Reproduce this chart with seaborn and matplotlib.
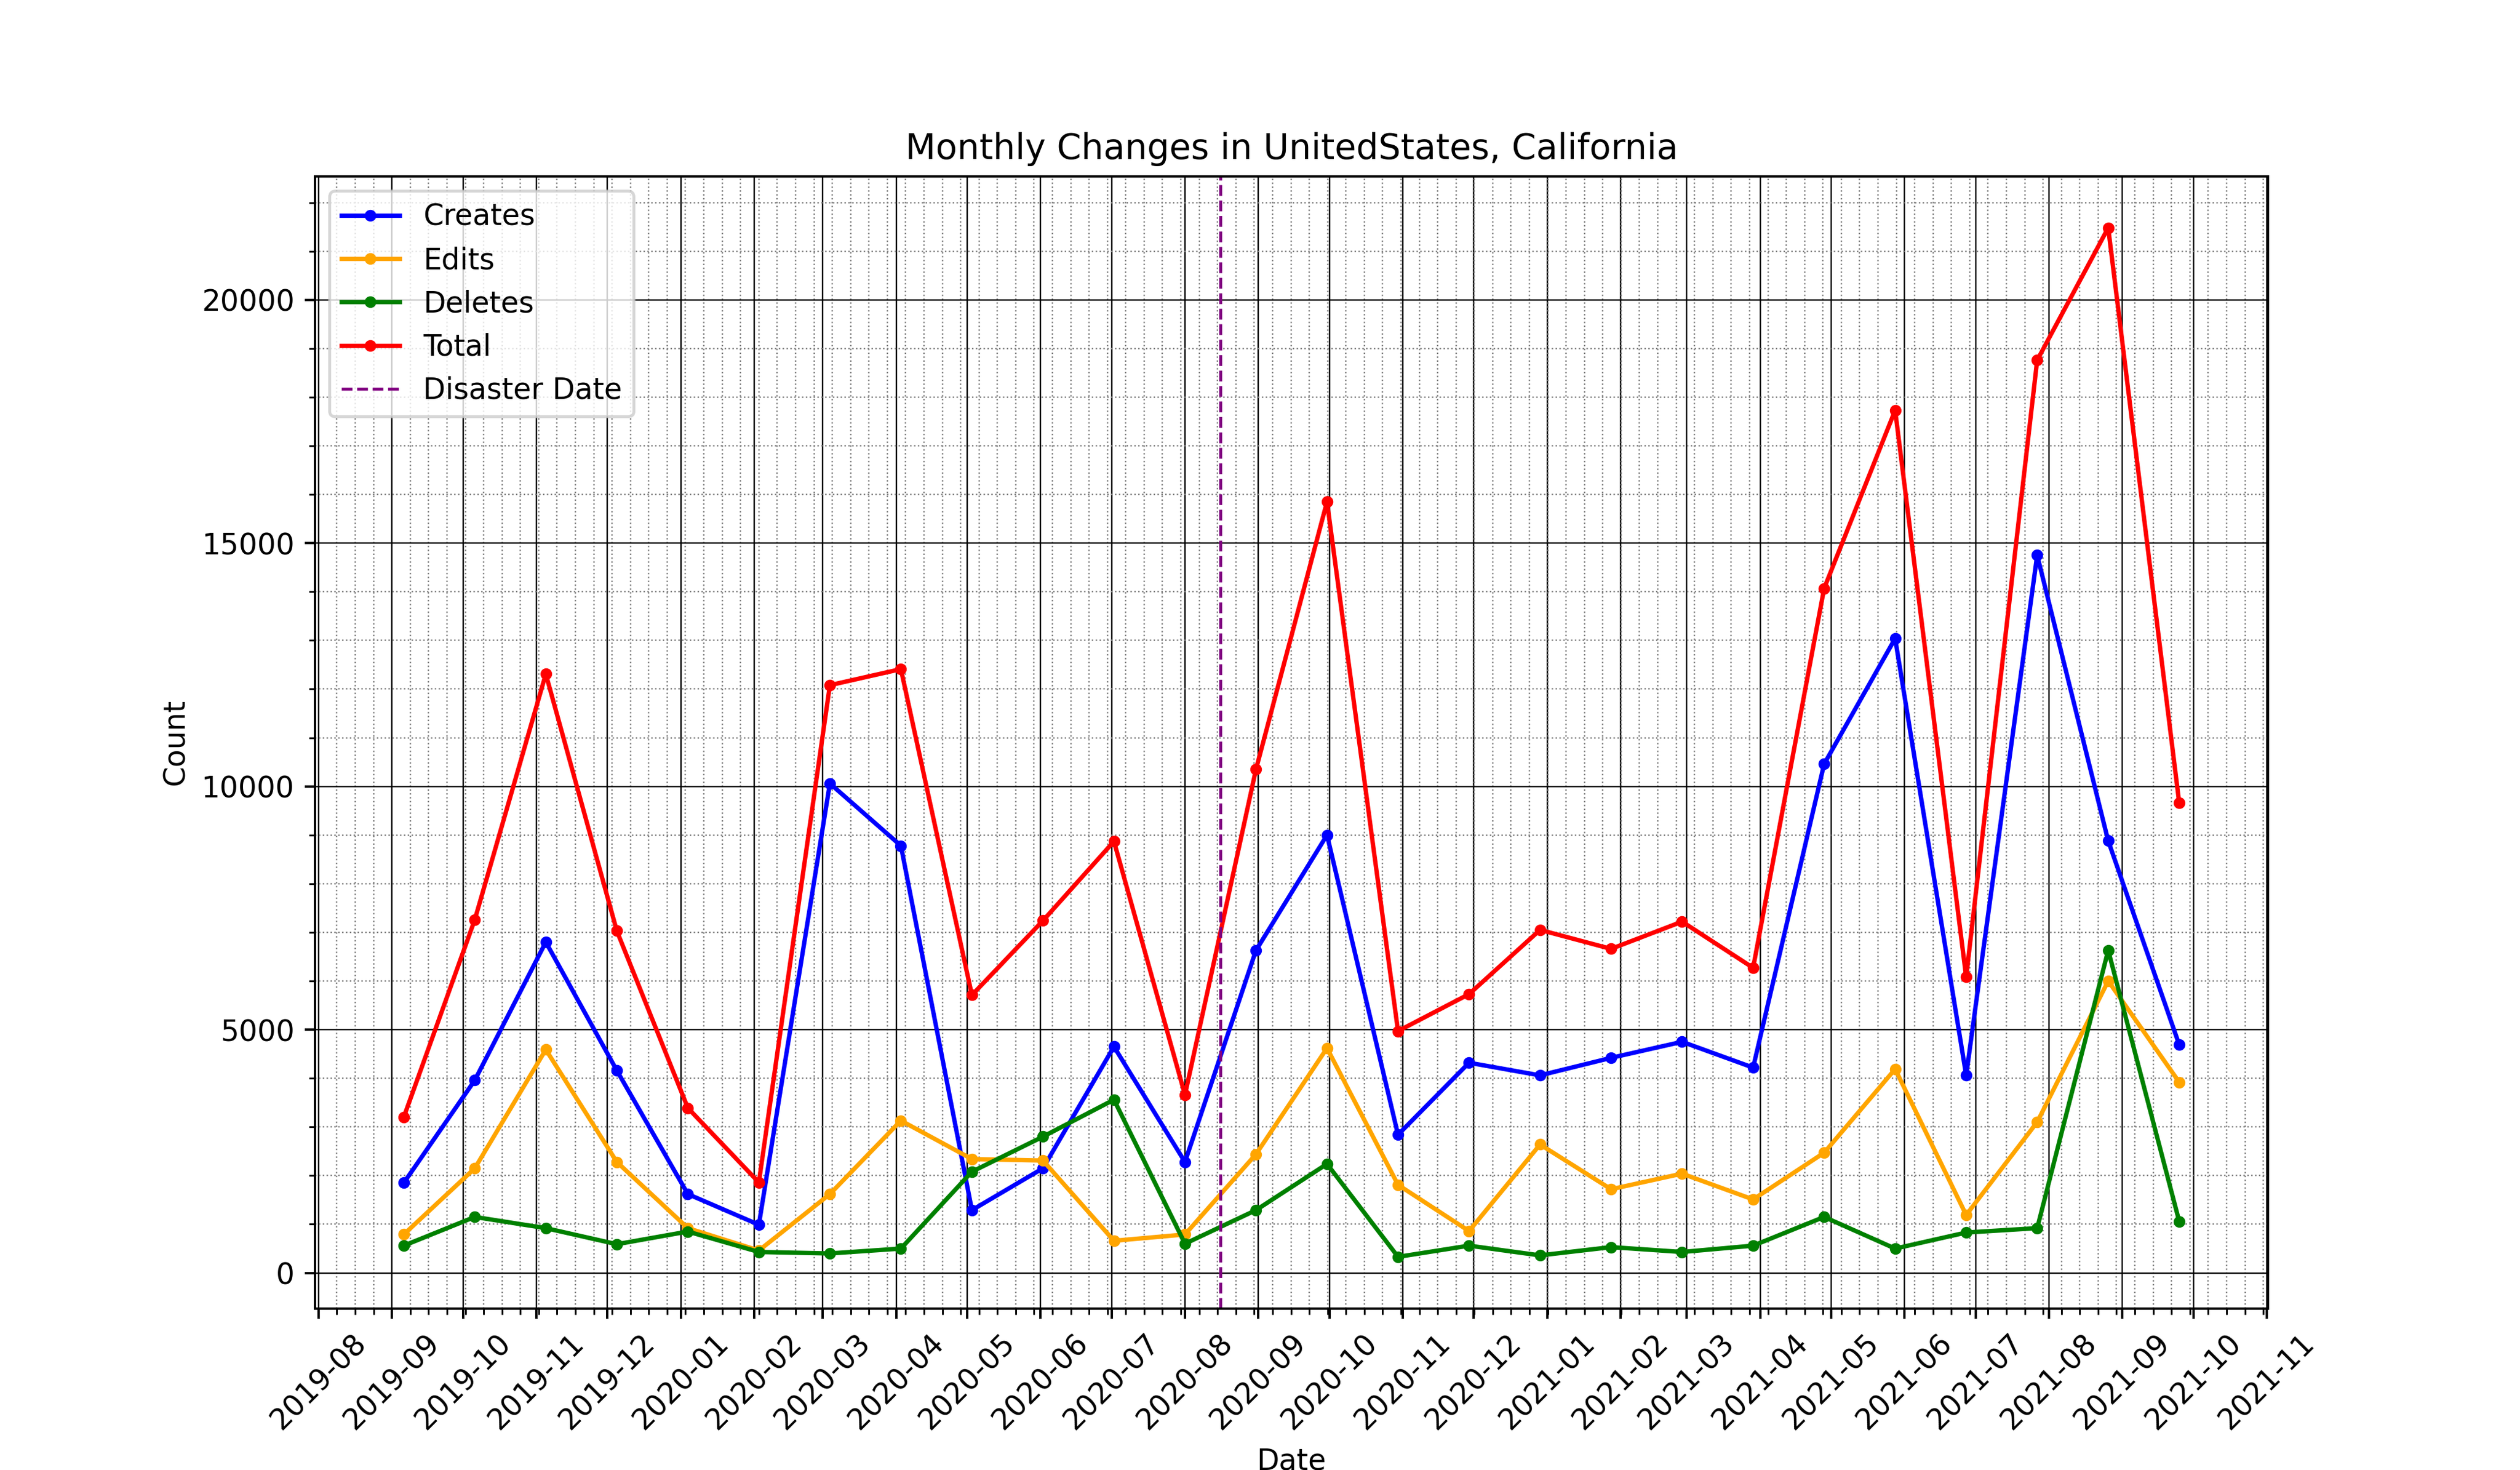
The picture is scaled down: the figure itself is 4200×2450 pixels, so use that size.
import matplotlib
matplotlib.use("Agg")
import pandas as pd
import seaborn as sns
import matplotlib.pyplot as plt
import matplotlib.dates as mdates

# Data
dates = ['2019-09-06', '2019-10-06', '2019-11-05', '2019-12-05', '2020-01-04',
         '2020-02-03', '2020-03-04', '2020-04-03', '2020-05-03', '2020-06-02',
         '2020-07-02', '2020-08-01', '2020-08-31', '2020-09-30', '2020-10-30',
         '2020-11-29', '2020-12-29', '2021-01-28', '2021-02-27', '2021-03-29',
         '2021-04-28', '2021-05-28', '2021-06-27', '2021-07-27', '2021-08-26',
         '2021-09-25']
creates = [1850, 3960, 6800, 4160, 1620, 990, 10060, 8780, 1290, 2150, 4650, 2280, 6630,
           9000, 2840, 4320, 4060, 4420, 4750, 4220, 10460, 13040, 4060, 14750, 8880, 4690]
edits = [790, 2150, 4590, 2280, 920, 460, 1620, 3130, 2340, 2310, 660, 790, 2440,
         4620, 1810, 860, 2640, 1720, 2040, 1510, 2470, 4190, 1190, 3100, 6000, 3920]
deletes = [560, 1150, 920, 590, 850, 430, 400, 500, 2080, 2800, 3560, 600, 1290,
           2240, 330, 560, 360, 530, 430, 560, 1150, 500, 830, 920, 6630, 1060]
total = [3200, 7260, 12310, 7030, 3390, 1860, 12080, 12410, 5710, 7240, 8870, 3660, 10350,
         15850, 4970, 5730, 7050, 6660, 7220, 6270, 14070, 17730, 6080, 18760, 21480, 9660]
disaster_date = '2020-08-16'
location = 'UnitedStates, California'

df = pd.DataFrame({'date': pd.to_datetime(dates), 'Creates': creates, 'Edits': edits,
                   'Deletes': deletes, 'Total': total})

fig = plt.figure(figsize=(12, 7))
ax = plt.gca()

for col, c in [('Creates', 'blue'), ('Edits', 'orange'), ('Deletes', 'green'), ('Total', 'red')]:
    sns.lineplot(x='date', y=col, data=df, ax=ax, color=c, label=col, marker='.',
                 markersize=6, markeredgecolor=c, markeredgewidth=1, linewidth=1.5)

plt.axvline(pd.to_datetime(disaster_date), color='purple', linestyle='--',
            linewidth=1, label='Disaster Date')

plt.title(f'Monthly Changes in {location}')
plt.xlabel('Date')
plt.ylabel('Count')

ax.xaxis.set_major_locator(mdates.MonthLocator())
ax.xaxis.set_major_formatter(mdates.DateFormatter('%Y-%m'))
plt.xticks(rotation=45)

plt.minorticks_on()
plt.grid(which='major', linestyle='-', linewidth=0.5, color='black')
plt.grid(which='minor', linestyle=':', linewidth=0.5, color='gray')

plt.legend(loc='upper left')

plt.savefig('out.png', dpi=350)
